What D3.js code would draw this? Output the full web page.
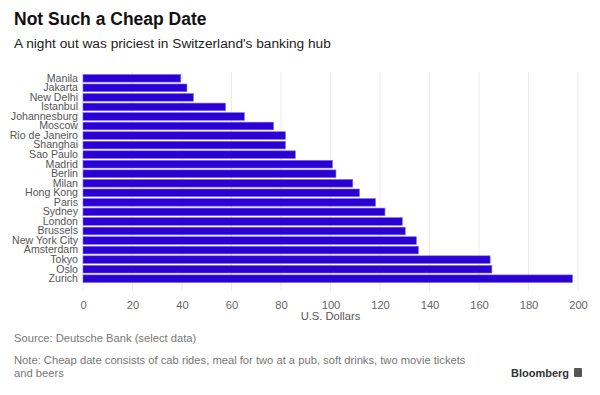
<!DOCTYPE html>
<html><head><meta charset="utf-8">
<script src="https://cdn.jsdelivr.net/npm/d3@7"></script>
<style>body{margin:0;background:#fff;}svg{display:block;font-family:"Liberation Sans",Arial,sans-serif;}</style>
</head><body>
<script>
const cities = ["Manila","Jakarta","New Delhi","Istanbul","Johannesburg","Moscow","Rio de Janeiro","Shanghai","Sao Paulo","Madrid","Berlin","Milan","Hong Kong","Paris","Sydney","London","Brussels","New York City","Amsterdam","Tokyo","Oslo","Zurich"];
const values = [39.5,42,44.6,57.6,65.2,77,81.8,81.8,85.8,100.8,102.2,109,111.7,118.2,122,129,130.2,134.7,135.5,164.5,165.2,197.8];
const ticks = [0,20,40,60,80,100,120,140,160,180,200];

const W=600,H=395;
const svg=d3.select("body").append("svg").attr("width",W).attr("height",H);
const x=d3.scaleLinear().domain([0,200]).range([83,578]);
const y=d3.scaleBand().domain(cities).range([73.5,283.5]).paddingInner(0.2).paddingOuter(0.1);

svg.append("text").attr("x",14).attr("y",25).attr("font-size",17.5).attr("font-weight","bold").attr("fill","#111").text("Not Such a Cheap Date");
svg.append("text").attr("x",14).attr("y",48).attr("font-size",13.7).attr("fill","#222").text("A night out was priciest in Switzerland's banking hub");

// grid
svg.append("g").selectAll("line").data(ticks).join("line")
  .attr("x1",d=>x(d)).attr("x2",d=>x(d)).attr("y1",72).attr("y2",291)
  .attr("stroke","#ececec").attr("stroke-width",1);

// bars
svg.append("g").selectAll("rect").data(values).join("rect")
  .attr("x",x(0)).attr("y",(d,i)=>y(cities[i]))
  .attr("width",d=>x(d)-x(0)).attr("height",y.bandwidth())
  .attr("fill","#2a00d5").attr("stroke","#7a6cf0").attr("stroke-width",0.6);

// y labels
const ya=svg.append("g").attr("transform",`translate(${x(0)},0)`).call(d3.axisLeft(y).tickSize(0).tickPadding(5));
ya.select(".domain").remove();
ya.selectAll("text").attr("font-size",10.6).attr("fill","#555").attr("font-family","Liberation Sans, Arial, sans-serif");

// x axis
const xa=svg.append("g").attr("transform","translate(0,291)").call(d3.axisBottom(x).tickValues(ticks).tickSize(0).tickPadding(10));
xa.select(".domain").remove();
xa.selectAll("text").attr("font-size",11.2).attr("fill","#666").attr("font-family","Liberation Sans, Arial, sans-serif");
svg.append("text").attr("x",(x(0)+x(200))/2).attr("y",320).attr("text-anchor","middle").attr("font-size",11.2).attr("fill","#555").text("U.S. Dollars");

svg.append("text").attr("x",14).attr("y",342).attr("font-size",11.2).attr("fill","#777").text("Source: Deutsche Bank (select data)");
svg.append("text").attr("x",14).attr("y",364).attr("font-size",11.2).attr("fill","#777").text("Note: Cheap date consists of cab rides, meal for two at a pub, soft drinks, two movie tickets");
svg.append("text").attr("x",14).attr("y",377).attr("font-size",11.2).attr("fill","#777").text("and beers");
svg.append("text").attr("x",569).attr("y",377).attr("text-anchor","end").attr("font-size",11).attr("font-weight","bold").attr("fill","#333").text("Bloomberg");
svg.append("rect").attr("x",574).attr("y",368).attr("width",8).attr("height",9).attr("rx",1).attr("fill","#555");
</script>
</body></html>
